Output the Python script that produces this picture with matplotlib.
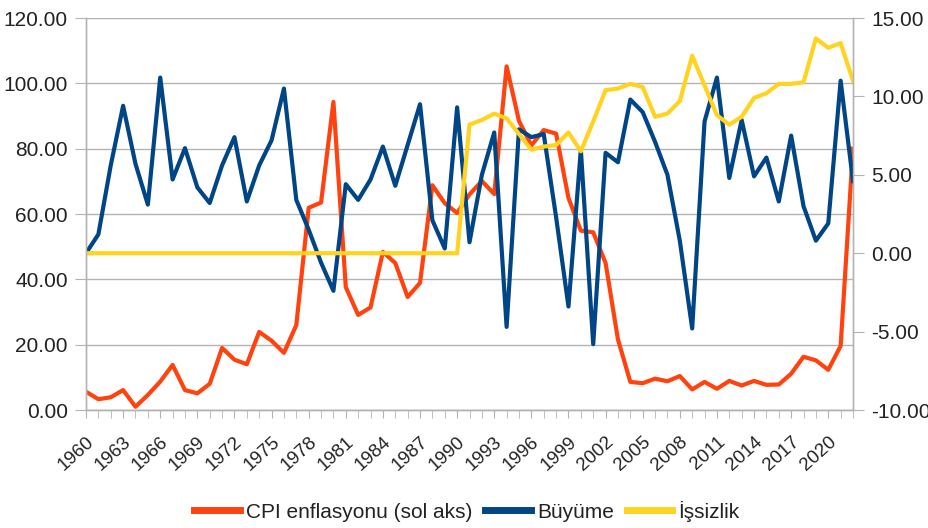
import matplotlib
matplotlib.use("Agg")
import matplotlib.pyplot as plt
import matplotlib.transforms as mtransforms
from matplotlib.ticker import MultipleLocator, FormatStrFormatter, FixedLocator

years = list(range(1960, 2023))
cpi = [5.6, 3.3, 3.9, 6.1, 1.0, 4.6, 8.7, 13.8, 6.1, 5.1,
       8.0, 19.0, 15.4, 14.0, 23.9, 21.2, 17.5, 26.0, 61.9, 63.5,
       94.3, 37.6, 29.1, 31.4, 48.4, 45.0, 34.6, 38.9, 68.8, 63.3,
       60.3, 66.0, 70.1, 66.1, 105.2, 88.5, 81.0, 85.7, 84.6, 64.9,
       54.9, 54.4, 45.0, 21.6, 8.6, 8.2, 9.6, 8.8, 10.4, 6.3,
       8.6, 6.5, 8.9, 7.5, 8.9, 7.7, 7.8, 11.1, 16.3, 15.2,
       12.3, 19.6, 80.0]
growth = [0.0, 1.2, 5.6, 9.4, 5.7, 3.1, 11.2, 4.7, 6.7, 4.2,
          3.2, 5.6, 7.4, 3.3, 5.6, 7.2, 10.5, 3.4, 1.5, -0.6,
          -2.4, 4.4, 3.4, 4.7, 6.8, 4.3, 6.9, 9.5, 2.1, 0.3,
          9.3, 0.7, 5.0, 7.7, -4.7, 7.9, 7.4, 7.6, 2.3, -3.4,
          6.6, -5.8, 6.4, 5.8, 9.8, 9.0, 7.1, 5.0, 0.8, -4.8,
          8.4, 11.2, 4.8, 8.5, 4.9, 6.1, 3.3, 7.5, 3.0, 0.8,
          1.9, 11.0, 4.6]
unemployment = [0.0, 0.0, 0.0, 0.0, 0.0, 0.0, 0.0, 0.0, 0.0, 0.0,
                0.0, 0.0, 0.0, 0.0, 0.0, 0.0, 0.0, 0.0, 0.0, 0.0,
                0.0, 0.0, 0.0, 0.0, 0.0, 0.0, 0.0, 0.0, 0.0, 0.0,
                0.0, 8.2, 8.5, 8.9, 8.6, 7.6, 6.6, 6.8, 6.9, 7.7,
                6.5, 8.4, 10.4, 10.5, 10.8, 10.6, 8.7, 8.9, 9.7, 12.6,
                10.7, 8.8, 8.2, 8.7, 9.9, 10.2, 10.8, 10.8, 10.9, 13.7,
                13.1, 13.4, 11.0]
label_years = list(range(1960, 2021, 3))
series_names = ["CPI enflasyonu (sol aks)", "Büyüme", "İşsizlik"]

plt.rcParams['font.family'] = ['Liberation Sans', 'DejaVu Sans']
FS = 15
grid_c = "#b3b3b3"
text_c = "#222222"

fig = plt.figure(figsize=(9.29, 5.28), dpi=100)
W, H = 929, 528
ax = fig.add_axes([86 / W, 1 - 410 / H, (853 - 86) / W, (410 - 18) / H])
ax2 = ax.twinx()

l1, = ax.plot(years, cpi, color="#ff420e", lw=3.0, solid_joinstyle='round', label=series_names[0])
l2, = ax2.plot(years, growth, color="#004586", lw=3.0, solid_joinstyle='round', label=series_names[1])
l3, = ax2.plot(years, unemployment, color="#ffd320", lw=3.0, solid_joinstyle='round', label=series_names[2])

ax.set_xlim(1960, 2022)
ax.set_ylim(0, 120)
ax2.set_ylim(-10, 15)

ax.yaxis.set_major_locator(MultipleLocator(20))
ax.yaxis.set_major_formatter(FormatStrFormatter('%.2f'))
ax2.yaxis.set_major_locator(MultipleLocator(5))
ax2.yaxis.set_major_formatter(FormatStrFormatter('%.2f'))

ax.set_xticks(label_years)
ax.set_xticklabels([str(y) for y in label_years], rotation=42, ha='right', va='top',
                   rotation_mode='anchor')
ax.xaxis.set_minor_locator(FixedLocator(years))
shift = mtransforms.ScaledTranslation(5 / 100, 0, fig.dpi_scale_trans)
for lab in ax.get_xticklabels():
    lab.set_transform(lab.get_transform() + shift)

ax.grid(axis='y', color=grid_c, lw=1)
ax.set_axisbelow(True)

for a in (ax, ax2):
    for s in a.spines.values():
        s.set_color(grid_c)
        s.set_linewidth(1)
    a.spines['top'].set_visible(False)

ax.tick_params(axis='x', which='both', length=6, color=grid_c, labelsize=13.5,
               labelcolor=text_c, pad=11)
ax.tick_params(axis='y', length=8, color=grid_c, labelsize=FS, labelcolor=text_c, pad=5)
ax2.tick_params(axis='y', length=8, color=grid_c, labelsize=FS, labelcolor=text_c, pad=5)

fig.legend(handles=[l1, l2, l3], loc='center', bbox_to_anchor=(467 / W, 1 - 511 / H),
           ncol=3, frameon=False, fontsize=FS, handlelength=2.2, handletextpad=0.3,
           columnspacing=0.6, labelcolor=text_c)
for h in fig.legends[0].legend_handles:
    h.set_linewidth(5)

fig.savefig("out.png", dpi=100)
